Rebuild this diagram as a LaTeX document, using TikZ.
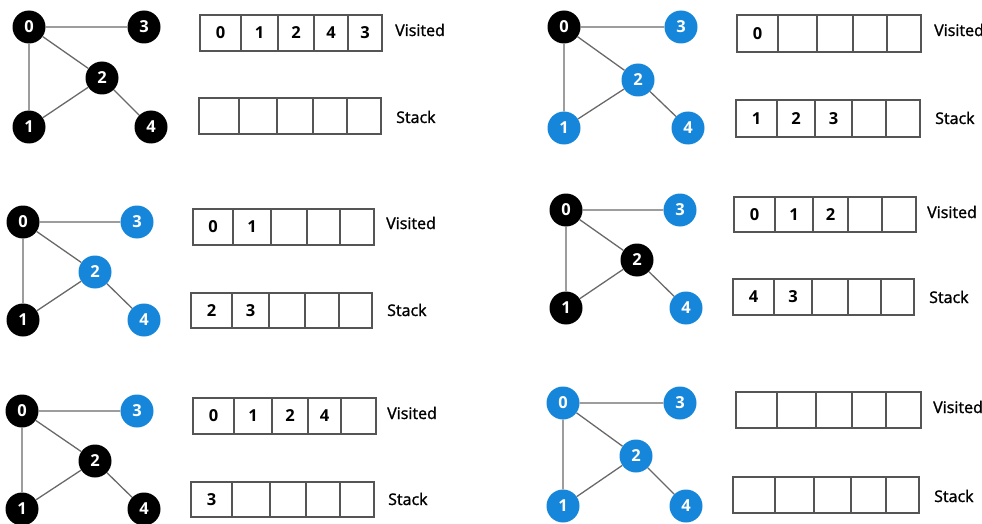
\documentclass[tikz,border=0pt]{standalone}
\usepackage{fontspec}
\setmainfont{Open Sans}
\newfontfamily\labelfont{Open Sans}[FakeBold=1.4]
\definecolor{vblue}{RGB}{22,134,218}
\definecolor{edgegray}{RGB}{105,105,105}
\definecolor{boxgray}{RGB}{85,85,85}
\tikzset{
  vtx/.style={circle, minimum size=33pt, inner sep=0pt, font=\fontsize{16.5}{17}\selectfont\bfseries, text=white},
  done/.style={vtx, fill=black},
  open/.style={vtx, fill=vblue},
  edge/.style={draw=edgegray, line width=1.3pt},
  cellbox/.style={draw=boxgray, line width=1.2pt},
  celltxt/.style={font=\fontsize{16.5}{17}\selectfont\bfseries, text=black},
  tag/.style={anchor=west, font=\fontsize{16}{17}\selectfont\labelfont, text=black, inner sep=0pt}
}
\begin{document}
\begin{tikzpicture}[x=1pt, y=-1pt]
\useasboundingbox (0,0) rectangle (982,524);

% ---------- panel A ----------
\node[done] (a0) at (29,27) {0};
\node[done] (a3) at (144,27) {3};
\node[done] (a2) at (102,78) {2};
\node[done] (a1) at (29,127) {1};
\node[done] (a4) at (151,127) {4};
\draw[edge] (a0) -- (a3) (a0) -- (a1) (a0) -- (a2) (a2) -- (a1) (a2) -- (a4);
\draw[cellbox] (200,15) rectangle node[celltxt] {0} (241,51);
\draw[cellbox] (241,15) rectangle node[celltxt] {1} (278,51);
\draw[cellbox] (278,15) rectangle node[celltxt] {2} (314,51);
\draw[cellbox] (314,15) rectangle node[celltxt] {4} (348,51);
\draw[cellbox] (348,15) rectangle node[celltxt] {3} (382,51);
\node[tag] (avis) at (395,30) {Visited};
\draw[cellbox] (199,98) rectangle (239,134);
\draw[cellbox] (239,98) rectangle (277,134);
\draw[cellbox] (277,98) rectangle (313,134);
\draw[cellbox] (313,98) rectangle (347,134);
\draw[cellbox] (347,98) rectangle (381,134);
\node[tag] (astk) at (396,117) {Stack};

% ---------- panel B ----------
\node[done] (b0) at (564,27) {0};
\node[open] (b3) at (681,27) {3};
\node[open] (b2) at (638,80) {2};
\node[open] (b1) at (564,128) {1};
\node[open] (b4) at (688,128) {4};
\draw[edge] (b0) -- (b3) (b0) -- (b1) (b0) -- (b2) (b2) -- (b1) (b2) -- (b4);
\draw[cellbox] (737,15) rectangle node[celltxt] {0} (778,52);
\draw[cellbox] (778,15) rectangle (817,52);
\draw[cellbox] (817,15) rectangle (853,52);
\draw[cellbox] (853,15) rectangle (887,52);
\draw[cellbox] (887,15) rectangle (921,52);
\node[tag] (bvis) at (934,30) {Visited};
\draw[cellbox] (736,100) rectangle node[celltxt] {1} (777,137);
\draw[cellbox] (777,100) rectangle node[celltxt] {2} (815,137);
\draw[cellbox] (815,100) rectangle node[celltxt] {3} (852,137);
\draw[cellbox] (852,100) rectangle (886,137);
\draw[cellbox] (886,100) rectangle (920,137);
\node[tag] (bstk) at (935,118) {Stack};

% ---------- panel C ----------
\node[done] (c0) at (23,222) {0};
\node[open] (c3) at (137,222) {3};
\node[open] (c2) at (95,272) {2};
\node[done] (c1) at (23,320) {1};
\node[open] (c4) at (144,320) {4};
\draw[edge] (c0) -- (c3) (c0) -- (c1) (c0) -- (c2) (c2) -- (c1) (c2) -- (c4);
\draw[cellbox] (193,209) rectangle node[celltxt] {0} (233,245);
\draw[cellbox] (233,209) rectangle node[celltxt] {1} (271,245);
\draw[cellbox] (271,209) rectangle (307,245);
\draw[cellbox] (307,209) rectangle (340,245);
\draw[cellbox] (340,209) rectangle (374,245);
\node[tag] (cvis) at (386,223) {Visited};
\draw[cellbox] (191,293) rectangle node[celltxt] {2} (232,328);
\draw[cellbox] (232,293) rectangle node[celltxt] {3} (269,328);
\draw[cellbox] (269,293) rectangle (305,328);
\draw[cellbox] (305,293) rectangle (339,328);
\draw[cellbox] (339,293) rectangle (372,328);
\node[tag] (cstk) at (387,310) {Stack};

% ---------- panel D ----------
\node[done] (d0) at (566,210) {0};
\node[open] (d3) at (680,210) {3};
\node[done] (d2) at (637,260) {2};
\node[done] (d1) at (566,308) {1};
\node[open] (d4) at (686,308) {4};
\draw[edge] (d0) -- (d3) (d0) -- (d1) (d0) -- (d2) (d2) -- (d1) (d2) -- (d4);
\draw[cellbox] (734,197) rectangle node[celltxt] {0} (775,232);
\draw[cellbox] (775,197) rectangle node[celltxt] {1} (813,232);
\draw[cellbox] (813,197) rectangle node[celltxt] {2} (848,232);
\draw[cellbox] (848,197) rectangle (882,232);
\draw[cellbox] (882,197) rectangle (916,232);
\node[tag] (dvis) at (927,212) {Visited};
\draw[cellbox] (733,279) rectangle node[celltxt] {4} (774,315);
\draw[cellbox] (774,279) rectangle node[celltxt] {3} (812,315);
\draw[cellbox] (812,279) rectangle (848,315);
\draw[cellbox] (848,279) rectangle (881,315);
\draw[cellbox] (881,279) rectangle (914,315);
\node[tag] (dstk) at (929,297) {Stack};

% ---------- panel E ----------
\node[done] (e0) at (22,411) {0};
\node[open] (e3) at (137,411) {3};
\node[done] (e2) at (95,461) {2};
\node[done] (e1) at (22,509) {1};
\node[done] (e4) at (144,509) {4};
\draw[edge] (e0) -- (e3) (e0) -- (e1) (e0) -- (e2) (e2) -- (e1) (e2) -- (e4);
\draw[cellbox] (193,398) rectangle node[celltxt] {0} (234,434);
\draw[cellbox] (234,398) rectangle node[celltxt] {1} (272,434);
\draw[cellbox] (272,398) rectangle node[celltxt] {2} (308,434);
\draw[cellbox] (308,398) rectangle node[celltxt] {4} (341,434);
\draw[cellbox] (341,398) rectangle (376,434);
\node[tag] (evis) at (387,413) {Visited};
\draw[cellbox] (191,482) rectangle node[celltxt] {3} (232,517);
\draw[cellbox] (232,482) rectangle (270,517);
\draw[cellbox] (270,482) rectangle (306,517);
\draw[cellbox] (306,482) rectangle (340,517);
\draw[cellbox] (340,482) rectangle (374,517);
\node[tag] (estk) at (388,499) {Stack};

% ---------- panel F ----------
\node[open] (f0) at (563,403) {0};
\node[open] (f3) at (680,403) {3};
\node[open] (f2) at (636,456) {2};
\node[open] (f1) at (563,506) {1};
\node[open] (f4) at (686,506) {4};
\draw[edge] (f0) -- (f3) (f0) -- (f1) (f0) -- (f2) (f2) -- (f1) (f2) -- (f4);
\draw[cellbox] (736,392) rectangle (777,428);
\draw[cellbox] (777,392) rectangle (816,428);
\draw[cellbox] (816,392) rectangle (852,428);
\draw[cellbox] (852,392) rectangle (886,428);
\draw[cellbox] (886,392) rectangle (921,428);
\node[tag] (fvis) at (933,407) {Visited};
\draw[cellbox] (733,477) rectangle (775,513);
\draw[cellbox] (775,477) rectangle (814,513);
\draw[cellbox] (814,477) rectangle (851,513);
\draw[cellbox] (851,477) rectangle (886,513);
\draw[cellbox] (886,477) rectangle (919,513);
\node[tag] (fstk) at (934,496) {Stack};
\end{tikzpicture}
\end{document}
